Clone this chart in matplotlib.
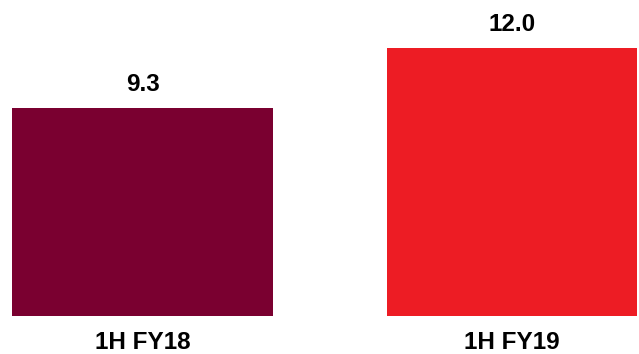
import matplotlib.pyplot as plt

# Datos del gráfico
categorias = ["1H FY18", "1H FY19"]
valores = [9.3, 12.0]
colores = ["#7A0030", "#ED1C24"]
anchos = [0.706, 0.677]

plt.rcParams['font.family'] = ['Liberation Sans', 'DejaVu Sans']

fig = plt.figure(figsize=(6.39, 3.54), dpi=100)
ax = fig.add_axes([0, 38 / 354, 1, 316 / 354])

pos = list(range(len(categorias)))
barras = ax.bar(pos, valores, width=anchos, color=colores)

# Etiquetas de valor sobre las barras
for b, v in zip(barras, valores):
    ax.annotate(f"{v:.1f}", (b.get_x() + b.get_width() / 2, v),
                xytext=(0, 8.5), textcoords="offset points",
                ha="center", va="bottom", fontsize=17.5, fontweight="bold")

ax.set_xlim(-0.386, 1.344)
ax.set_ylim(0, 14.14)
ax.set_xticks(pos)
ax.set_xticklabels(categorias, fontsize=17.5, fontweight="bold")
ax.tick_params(axis="x", length=0, pad=10.5)
ax.set_yticks([])
for s in ax.spines.values():
    s.set_visible(False)

fig.savefig("out.png", dpi=100)
